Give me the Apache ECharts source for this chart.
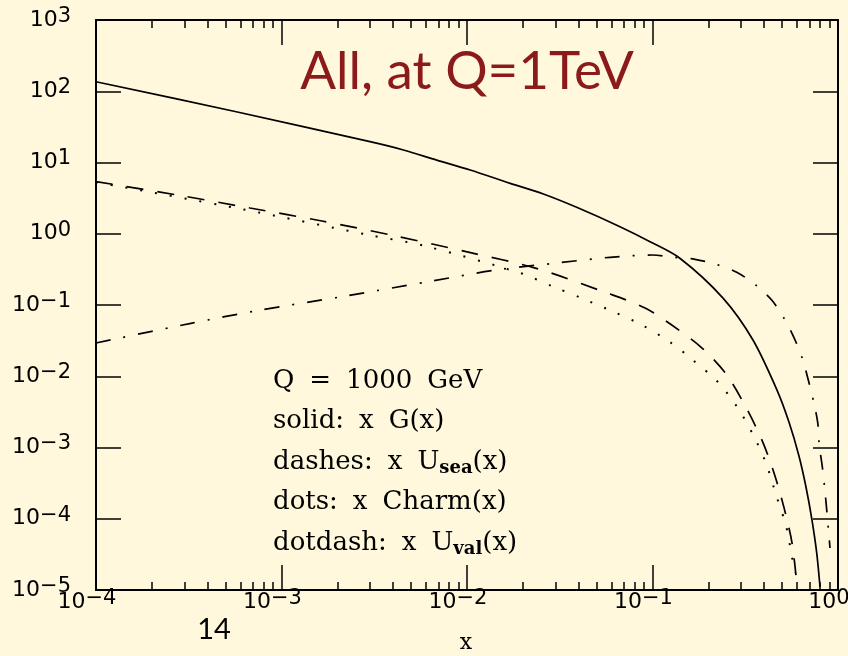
<!DOCTYPE html>
<html>
<head>
<meta charset="utf-8">
<script src="https://cdn.jsdelivr.net/npm/echarts@6/dist/echarts.min.js"></script>
<style>
  html, body { margin: 0; padding: 0; background: #fff8dc; }
  #chart { width: 848px; height: 656px; }
</style>
</head>
<body>
<div id="chart"></div>
<script>
// Parton distributions x·f(x) at Q = 1000 GeV
const gluonX = [1e-4, 5.7e-4, 3.0e-3, 4.54e-3, 6.87e-3, 0.0104, 0.0171, 0.0258, 0.039, 0.0668, 0.097, 0.141, 0.240, 0.348, 0.469, 0.544, 0.616, 0.672, 0.724, 0.768, 0.800];
const gluonY = [136, 51.6, 19.6, 15.0, 10.8, 7.85, 5.1, 3.61, 2.35, 1.256, 0.773, 0.45, 0.125, 0.0323, 6.4e-3, 2.28e-3, 7.6e-4, 2.79e-4, 9.6e-5, 3.3e-5, 1.1e-5];

const seaX = [1e-4, 2.74e-4, 6.76e-4, 1.65e-3, 4.05e-3, 9.9e-3, 0.0236, 0.0575, 0.0912, 0.127, 0.185, 0.249, 0.315, 0.389, 0.452, 0.512, 0.565, 0.601];
const seaY = [5.4, 3.5, 2.3, 1.51, 0.94, 0.56, 0.327, 0.146, 0.0908, 0.0524, 0.0249, 0.0108, 3.9e-3, 1.27e-3, 4.4e-4, 1.42e-4, 4.6e-5, 1.17e-5];

const charmX = [1e-4, 6.19e-4, 2.96e-3, 5.94e-3, 0.0195, 0.0291, 0.0417, 0.062, 0.0877, 0.124, 0.165, 0.225, 0.286, 0.349, 0.409, 0.464, 0.525, 0.565, 0.586];
const charmY = [5.3, 2.2, 0.96, 0.673, 0.279, 0.181, 0.124, 0.0798, 0.0524, 0.0303, 0.0169, 8.3e-3, 3.7e-3, 1.5e-3, 6.05e-4, 2.15e-4, 7.9e-5, 2.9e-5, 1.73e-5];

const valX = [1e-4, 3.3e-4, 7.38e-4, 2.23e-3, 6.48e-3, 0.0143, 0.0317, 0.059, 0.100, 0.129, 0.1695, 0.2219, 0.2844, 0.360, 0.4391, 0.5116, 0.5791, 0.6421, 0.6917, 0.7423, 0.7774, 0.7929, 0.823, 0.8479, 0.8692, 0.891, 0.9055];
const valY = [0.0293, 0.0558, 0.0832, 0.134, 0.217, 0.310, 0.393, 0.467, 0.503, 0.467, 0.438, 0.370, 0.2877, 0.1909, 0.1175, 0.0651, 0.0348, 0.01786, 8.86e-3, 4.17e-3, 2.23e-3, 1.08e-3, 5.38e-4, 2.68e-4, 1.33e-4, 6.37e-5, 3.88e-5];

// Axis ranges; minor ticks sit at 2..9 within each decade of x
const xRange = [1e-4, 1];
const yRange = [1e-5, 1e3];
const xDecades = [-4, -3, -2, -1];
const minorMultipliers = [2, 3, 4, 5, 6, 7, 8, 9];

const titleText = 'All, at Q=1TeV';
const pageNumber = '14';
const xName = 'x';
const legendLines = [
  'Q = 1000 GeV',
  'solid: x G(x)',
  'dashes: x U{sub|sea}(x)',
  'dots: x Charm(x)',
  'dotdash: x U{sub|val}(x)'
];

// Minor tick exponents for a linear axis spanning the same decades
const xMinorExponents = [];
xDecades.forEach(e => minorMultipliers.forEach(m => xMinorExponents.push(e + Math.log10(m))));

const pairs = (xs, ys) => xs.map((x, i) => [x, ys[i]]);
const expLabel = v => {
  const e = Math.round(Math.log10(v));
  return '{b|10}{s|' + String(e).replace('-', '\u2212') + '}';
};
const labelRich = {
  b: { fontFamily: 'DejaVu Sans', fontSize: 22, lineHeight: 28, color: '#000' },
  s: { fontFamily: 'DejaVu Sans', fontSize: 21, lineHeight: 8, verticalAlign: 'top', color: '#000' }
};
const frameLine = { show: true, onZero: false, lineStyle: { color: '#000', width: 2 } };
const majorTick = { show: true, inside: true, length: 25, lineStyle: { color: '#000', width: 1.5 } };
const minorTick = { show: true, inside: true, length: 8, customValues: xMinorExponents, lineStyle: { color: '#000', width: 1.5 } };

function logAxis(extra) {
  return Object.assign({
    type: 'log', logBase: 10, gridIndex: 0,
    splitLine: { show: false }, minorTick: { show: false }, minorSplitLine: { show: false }
  }, extra);
}
// Tick-only axis laid out in log10(x) so the 2..9 marks land on the log scale
function minorAxis(pos) {
  return {
    type: 'value', position: pos, gridIndex: 0,
    min: Math.log10(xRange[0]), max: Math.log10(xRange[1]),
    axisLine: { show: false }, axisTick: minorTick, axisLabel: { show: false },
    splitLine: { show: false }
  };
}

const xAxes = [
  logAxis({ position: 'bottom', min: xRange[0], max: xRange[1], splitNumber: 4, axisLine: frameLine, axisTick: majorTick,
    axisLabel: { formatter: expLabel, rich: labelRich, fontFamily: 'DejaVu Sans', fontSize: 22, margin: -2, padding: [0, 18, 0, 0] } }),
  minorAxis('bottom'),
  logAxis({ position: 'top', min: xRange[0], max: xRange[1], splitNumber: 4, axisLine: frameLine, axisTick: majorTick, axisLabel: { show: false } }),
  minorAxis('top')
];
const yAxes = [
  logAxis({ position: 'left', min: yRange[0], max: yRange[1], splitNumber: 8, axisLine: frameLine, axisTick: majorTick,
    axisLabel: { formatter: expLabel, rich: labelRich, fontFamily: 'DejaVu Sans', fontSize: 22, margin: 25 } }),
  logAxis({ position: 'right', min: yRange[0], max: yRange[1], splitNumber: 8, axisLine: frameLine, axisTick: majorTick, axisLabel: { show: false } })
];

function curve(xs, ys, width, dash) {
  return {
    type: 'line', xAxisIndex: 0, yAxisIndex: 0,
    data: pairs(xs, ys), showSymbol: false, symbol: 'none',
    smooth: 0.3, clip: true,
    lineStyle: { color: '#000', width: width, type: dash, cap: 'butt' },
    silent: true
  };
}

const legendGraphics = legendLines.map((line, i) => ({
  type: 'text', left: 273, top: 381 + i * 40.5 - 15,
  style: {
    text: line.replace(/ /g, '{w| }'),
    font: '26px "DejaVu Serif"', fill: '#000',
    rich: {
      w: { width: 15, fontFamily: 'DejaVu Serif', fontSize: 26, lineHeight: 30 },
      sub: { fontFamily: 'DejaVu Serif', fontWeight: 'bold', fontSize: 18, lineHeight: 10, verticalAlign: 'bottom', fill: '#000' }
    },
    lineHeight: 30
  }
}));

const chart = echarts.init(document.getElementById('chart'), null, { renderer: 'canvas' });
chart.setOption({
  backgroundColor: '#fff8dc',
  animation: false,
  grid: { left: 96, right: 10, top: 20, bottom: 66, containLabel: false, outerBoundsMode: 'none' },
  xAxis: xAxes,
  yAxis: yAxes,
  series: [
    curve(gluonX, gluonY, 1.7, 'solid'),
    curve(seaX, seaY, 1.7, [17, 14]),
    curve(charmX, charmY, 2, [2, 13]),
    curve(valX, valY, 1.7, [15, 13, 2, 13])
  ],
  graphic: [
    { type: 'text', x: 467, y: 72, style: { text: titleText, font: '53px Lato', fill: '#8b1a1a', align: 'center', verticalAlign: 'middle' } },
    { type: 'text', x: 214, y: 630, style: { text: pageNumber, font: '29px Lato', fill: '#000', align: 'center', verticalAlign: 'middle' } },
    { type: 'text', x: 466, y: 643, style: { text: xName, font: '22px "DejaVu Serif"', fill: '#000', align: 'center', verticalAlign: 'middle' } }
  ].concat(legendGraphics)
});
</script>
</body>
</html>
